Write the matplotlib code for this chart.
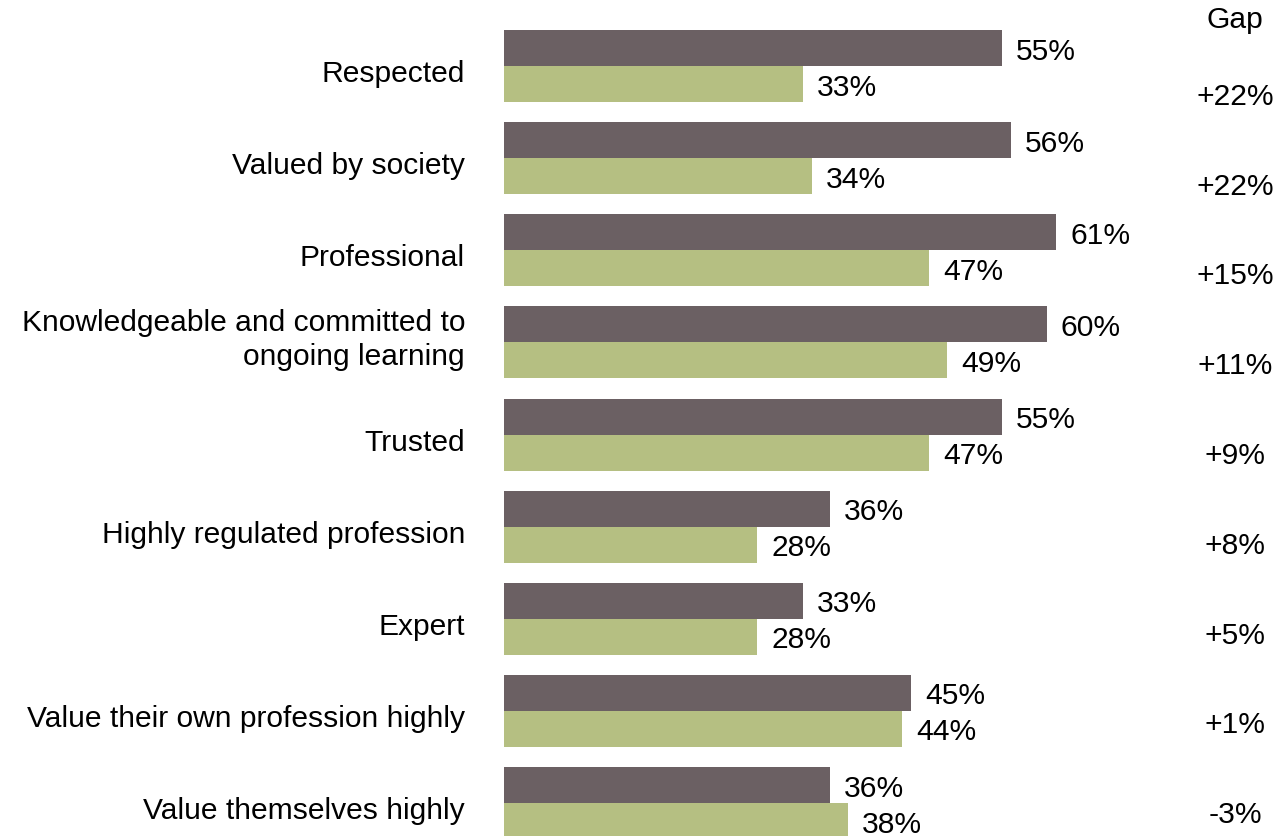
import matplotlib
matplotlib.use("Agg")
import matplotlib.pyplot as plt

categories = [
    "Respected",
    "Valued by society",
    "Professional",
    "Knowledgeable and committed to\nongoing learning",
    "Trusted",
    "Highly regulated profession",
    "Expert",
    "Value their own profession highly",
    "Value themselves highly",
]
series_a = [55, 56, 61, 60, 55, 36, 33, 45, 36]
series_b = [33, 34, 47, 49, 47, 28, 28, 44, 38]
gap_labels = ["+22%", "+22%", "+15%", "+11%", "+9%", "+8%", "+5%", "+1%", "-3%"]

dark = "#6b6063"
green = "#b5bf82"

plt.rcParams["font.family"] = ["Liberation Sans", "DejaVu Sans"]
FS = 21.6

W, H = 1276, 836
DPI = 100
fig = plt.figure(figsize=(W / DPI, H / DPI), dpi=DPI)

px_per_unit = 9.05
x_max = 70
left_px = 504
ax = fig.add_axes([left_px / W, 0, x_max * px_per_unit / W, 1])

group_px = 92.125
first_center_px = 66
y_top = (0 - first_center_px) / group_px
y_bot = (H - first_center_px) / group_px
bar_h = 36 / group_px

ys = list(range(len(categories)))
ax.barh([y - bar_h / 2 for y in ys], series_a, height=bar_h, color=dark, align="center")
ax.barh([y + bar_h / 2 for y in ys], series_b, height=bar_h, color=green, align="center")

pt = 72 / DPI  # points per pixel

# value labels, baseline a little below the bar centre
for y, a, b in zip(ys, series_a, series_b):
    for v, yy in ((a, y - bar_h / 2), (b, y + bar_h / 2)):
        ax.annotate(f"{v}%", (v, yy), xytext=(14 * pt, -11.5 * pt), textcoords="offset points",
                    ha="left", va="baseline", fontsize=FS, color="black",
                    annotation_clip=False)

# category labels, right aligned left of the bars
for y, lab in zip(ys, categories):
    nlines = lab.count("\n") + 1
    drop = 16 + 7 * (nlines - 1)
    ax.annotate(lab, (0, y), xytext=(-39 * pt, -drop * pt), textcoords="offset points",
                ha="right", va="baseline", fontsize=FS, color="black",
                multialignment="right", linespacing=1.27, annotation_clip=False)

ax.set_xlim(0, x_max)
ax.set_ylim(y_bot, y_top)
ax.set_yticks([])
ax.set_xticks([])
for s in ax.spines.values():
    s.set_visible(False)

# Gap column on the right
gap_x = 1235 / W
fig.text(gap_x, 1 - 28 / H, "Gap", ha="center", va="baseline", fontsize=FS)
for i, g in enumerate(gap_labels):
    base_px = 105 + i * 89.75
    fig.text(gap_x, 1 - base_px / H, g, ha="center", va="baseline", fontsize=FS)

fig.savefig("out.png", dpi=DPI)
